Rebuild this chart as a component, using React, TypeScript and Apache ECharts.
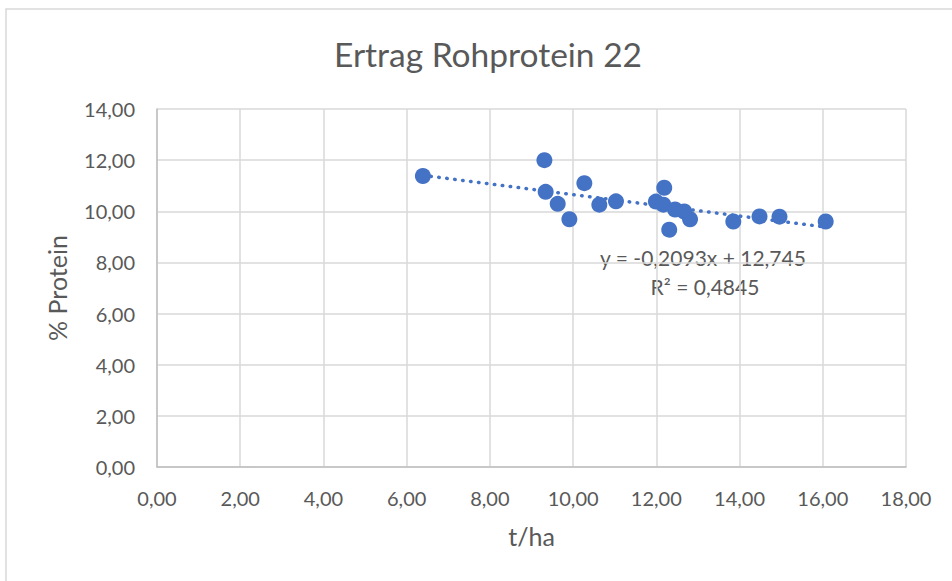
import React, { useEffect, useRef } from "react";
import * as echarts from "echarts";

const titleText = "Ertrag Rohprotein 22";
const xName = "t/ha";
const yName = "% Protein";
const yieldValues = [6.39, 9.31, 9.34, 9.63, 9.91, 10.27, 10.63, 11.03, 11.99, 12.17, 12.19, 12.45, 12.67, 12.81, 12.31, 13.85, 14.48, 14.96, 16.07];
const proteinValues = [11.38, 12.0, 10.76, 10.29, 9.69, 11.1, 10.26, 10.39, 10.38, 10.26, 10.92, 10.07, 9.99, 9.69, 9.28, 9.6, 9.8, 9.79, 9.6];
const trendSlope = -0.2093;
const trendIntercept = 12.745;
const equationText = "y = -0,2093x + 12,745";
const r2Text = "R² = 0,4845";

const FONT = "Lato, 'Open Sans', sans-serif";
const GRAY = "#595959";
const BLUE = "#4472c4";
const fmt = (v: number) => v.toFixed(2).replace(".", ",");

export default function App() {
  const ref = useRef<HTMLDivElement>(null);
  useEffect(() => {
    if (!ref.current) return;
    const chart = echarts.init(ref.current, null, { renderer: "svg" });
    const pts = yieldValues.map((x, i) => [x, proteinValues[i]]);
    const xMin = Math.min(...yieldValues);
    const xMax = Math.max(...yieldValues);
    const trend = [
      [xMin, trendSlope * xMin + trendIntercept],
      [xMax, trendSlope * xMax + trendIntercept],
    ];
    chart.setOption({
      animation: false,
      backgroundColor: "#ffffff",
      textStyle: { fontFamily: FONT },
      title: {
        text: titleText,
        left: 483,
        textAlign: "center",
        top: 32,
        textStyle: { fontFamily: FONT, fontSize: 33.5, fontWeight: "normal", color: GRAY },
      },
      grid: { left: 157, right: 46, top: 109, bottom: 114, containLabel: false },
      xAxis: {
        type: "value",
        min: 0,
        max: 18,
        interval: 2,
        name: xName,
        nameLocation: "middle",
        nameGap: 56,
        nameTextStyle: { fontFamily: FONT, fontSize: 25, color: GRAY },
        axisLine: { show: true, lineStyle: { color: "#bfbfbf", width: 1.5 } },
        axisTick: { show: false },
        axisLabel: { formatter: fmt, fontFamily: FONT, fontSize: 20, color: GRAY, margin: 21 },
        splitLine: { show: true, lineStyle: { color: "#d9d9d9", width: 1.5 } },
      },
      yAxis: {
        type: "value",
        min: 0,
        max: 14,
        interval: 2,
        name: yName,
        nameLocation: "middle",
        nameGap: 88,
        nameTextStyle: { fontFamily: FONT, fontSize: 25, color: GRAY },
        axisLine: { show: true, lineStyle: { color: "#bfbfbf", width: 1.5 } },
        axisTick: { show: false },
        axisLabel: { formatter: fmt, fontFamily: FONT, fontSize: 20, color: GRAY, margin: 22 },
        splitLine: { show: true, lineStyle: { color: "#d9d9d9", width: 1.5 } },
      },
      series: [
        {
          type: "line",
          data: trend,
          symbol: "none",
          lineStyle: { color: BLUE, width: 3.5, type: [0.5, 7.5], cap: "round" },
          z: 1,
        },
        {
          type: "scatter",
          data: pts,
          symbolSize: 16,
          itemStyle: { color: BLUE, opacity: 1 },
          z: 2,
        },
      ],
      graphic: [
        {
          type: "rect",
          shape: { x: 6, y: 9, width: 960, height: 600 },
          style: { fill: "none", stroke: "#d9d9d9", lineWidth: 1.5 },
          silent: true,
          z: -1,
        },
        {
          type: "text",
          x: 703,
          y: 257,
          style: { text: equationText, fontFamily: FONT, fontSize: 21, fill: GRAY, align: "center", verticalAlign: "middle" },
        },
        {
          type: "text",
          x: 705,
          y: 286,
          style: { text: r2Text, fontFamily: FONT, fontSize: 21, fill: GRAY, align: "center", verticalAlign: "middle" },
        },
      ],
    });
    return () => chart.dispose();
  }, []);
  return (
    <div
      ref={ref}
      style={{ position: "absolute", left: 0, top: 0, width: 952, height: 581, background: "#fff" }}
    />
  );
}
